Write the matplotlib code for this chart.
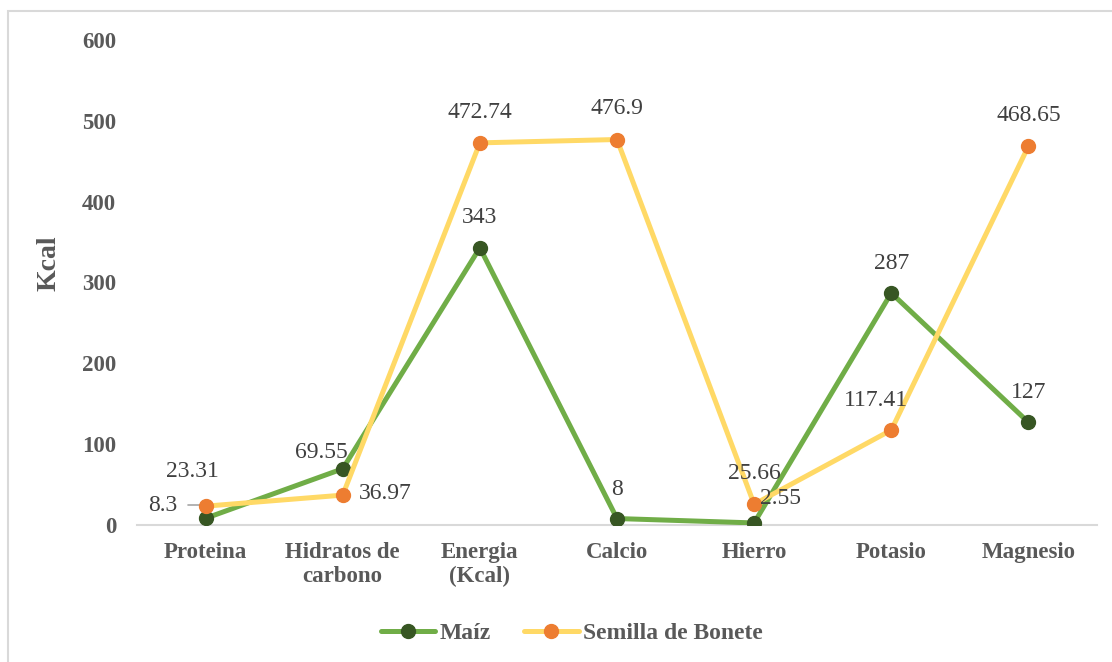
import matplotlib.pyplot as plt
from matplotlib.patches import Rectangle

plt.rcParams['font.family'] = ['Liberation Serif', 'DejaVu Serif']

categorias = ['Proteina', 'Hidratos de\ncarbono', 'Energia\n(Kcal)', 'Calcio',
              'Hierro', 'Potasio', 'Magnesio']
maiz = [8.3, 69.55, 343, 8, 2.55, 287, 127]
bonete = [23.31, 36.97, 472.74, 476.9, 25.66, 117.41, 468.65]
maiz_txt = ['8.3', '69.55', '343', '8', '2.55', '287', '127']
bonete_txt = ['23.31', '36.97', '472.74', '476.9', '25.66', '117.41', '468.65']

# label offsets in pixels (dx, dy)
maiz_off = [(-43, 13), (-21, 16), (0, 30), (0, 29), (26, 24), (0, 30), (0, 30)]
bonete_off = [(-13, 35), (43, 2), (0, 30), (0, 31), (0, 31), (-15, 30), (0, 31)]

W, H = 1112, 662
fig = plt.figure(figsize=(W / 100, H / 100), dpi=100)
fig.patches.append(Rectangle((8 / W, -0.1), 1.2, 1 - 11 / H + 0.1,
                             transform=fig.transFigure, fill=False,
                             edgecolor='#D9D9D9', linewidth=1.5))

ax = fig.add_axes([137 / W, 1 - 525 / H, (1097 - 137) / W, (525 - 40) / H])
x = list(range(len(categorias)))

ax.plot(x, maiz, color='#70AD47', linewidth=3.6, marker='o', markersize=10,
        markerfacecolor='#375623', markeredgecolor='#375623', label='Maíz',
        solid_capstyle='round', zorder=3)
ax.plot(x, bonete, color='#FFD966', linewidth=3.6, marker='o', markersize=10,
        markerfacecolor='#ED7D31', markeredgecolor='#ED7D31',
        label='Semilla de Bonete', solid_capstyle='round', zorder=4)

for i in x:
    ax.annotate(maiz_txt[i], (i, maiz[i]), xytext=maiz_off[i],
                textcoords='offset pixels', ha='center', va='center',
                fontsize=17, color='#404040', zorder=5)
    ax.annotate(bonete_txt[i], (i, bonete[i]), xytext=bonete_off[i],
                textcoords='offset pixels', ha='center', va='center',
                fontsize=17, color='#404040', zorder=5)

# leader line for the first Maíz label
ax.annotate('', (0, maiz[0]), xytext=(-18, 13), textcoords='offset pixels',
            arrowprops=dict(arrowstyle='-', color='#A6A6A6', lw=1.2,
                            connectionstyle='angle,angleA=0,angleB=90,rad=0',
                            shrinkA=0, shrinkB=4))

ax.set_xlim(-0.5, 6.5)
ax.set_ylim(0, 600)
ax.set_yticks(range(0, 601, 100))
ax.set_xticks(x)
ax.set_xticklabels(categorias)
for s in ['top', 'right', 'left']:
    ax.spines[s].set_visible(False)
ax.spines['bottom'].set_color('#D9D9D9')
ax.spines['bottom'].set_linewidth(1.5)
ax.tick_params(length=0)
ax.tick_params(axis='y', pad=15)
ax.tick_params(axis='x', pad=12)
for lbl in ax.get_xticklabels() + ax.get_yticklabels():
    lbl.set_fontsize(16.5)
    lbl.set_fontweight('bold')
    lbl.set_color('#595959')
    lbl.set_linespacing(1.2)

ax.set_ylabel('Kcal', fontsize=20, fontweight='bold', color='#595959',
              va='center')
ax.yaxis.set_label_coords(-(137 - 49) / (1097 - 137), 0.54)

fig.legend(loc='center', bbox_to_anchor=(572 / W, 1 - 633 / H), ncol=2,
           frameon=False, prop={'size': 17, 'weight': 'bold'},
           labelcolor='#595959', handlelength=2.3, columnspacing=1.4,
           handletextpad=0.2)

fig.savefig('out.png', dpi=100)
